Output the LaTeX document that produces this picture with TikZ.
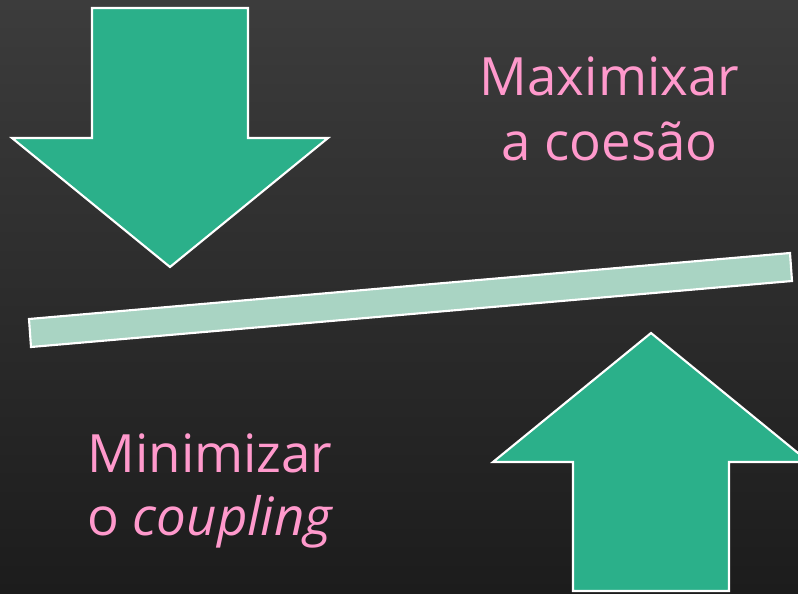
\documentclass[tikz,border=0pt]{standalone}
\usepackage{fontspec}
\setmainfont{Open Sans}
\definecolor{arrowgreen}{HTML}{2BB08A}
\definecolor{barlight}{HTML}{A9D4C3}
\definecolor{labelpink}{HTML}{FF99CC}
\definecolor{bgtop}{HTML}{3C3C3C}
\definecolor{bgbottom}{HTML}{1C1C1C}
\begin{document}
\begin{tikzpicture}[x=0.75pt,y=-0.75pt,
  arrowshape/.style={fill=arrowgreen,draw=white,line width=1.6pt,line join=miter},
  barshape/.style={fill=barlight,draw=white,line width=1.6pt},
  labeltext/.style={text=labelpink,font=\fontsize{39.6}{48}\selectfont,inner sep=0pt,anchor=base}]
\shade[top color=bgtop,bottom color=bgbottom] (0,0) rectangle (798,593);
\useasboundingbox (0,0) rectangle (798,593);
% down arrow
\draw[arrowshape] (92,8) -- (248,8) -- (248,138) -- (328,138) -- (170,267) -- (12,138) -- (92,138) -- cycle;
% bar
\draw[barshape] (29,319) -- (790,253) -- (792,281) -- (31,347) -- cycle;
% up arrow
\draw[arrowshape] (651,333) -- (809,462) -- (729,462) -- (729,591) -- (573,591) -- (573,462) -- (493,462) -- cycle;
% labels
\node[labeltext] (max1) at (609.5,95) {Maximixar};
\node[labeltext] (max2) at (609.5,160) {a coesão};
\node[labeltext] (min1) at (210,472) {Minimizar};
\node[labeltext] (min2) at (210.5,535) {o \textit{coupling}};
\end{tikzpicture}
\end{document}
